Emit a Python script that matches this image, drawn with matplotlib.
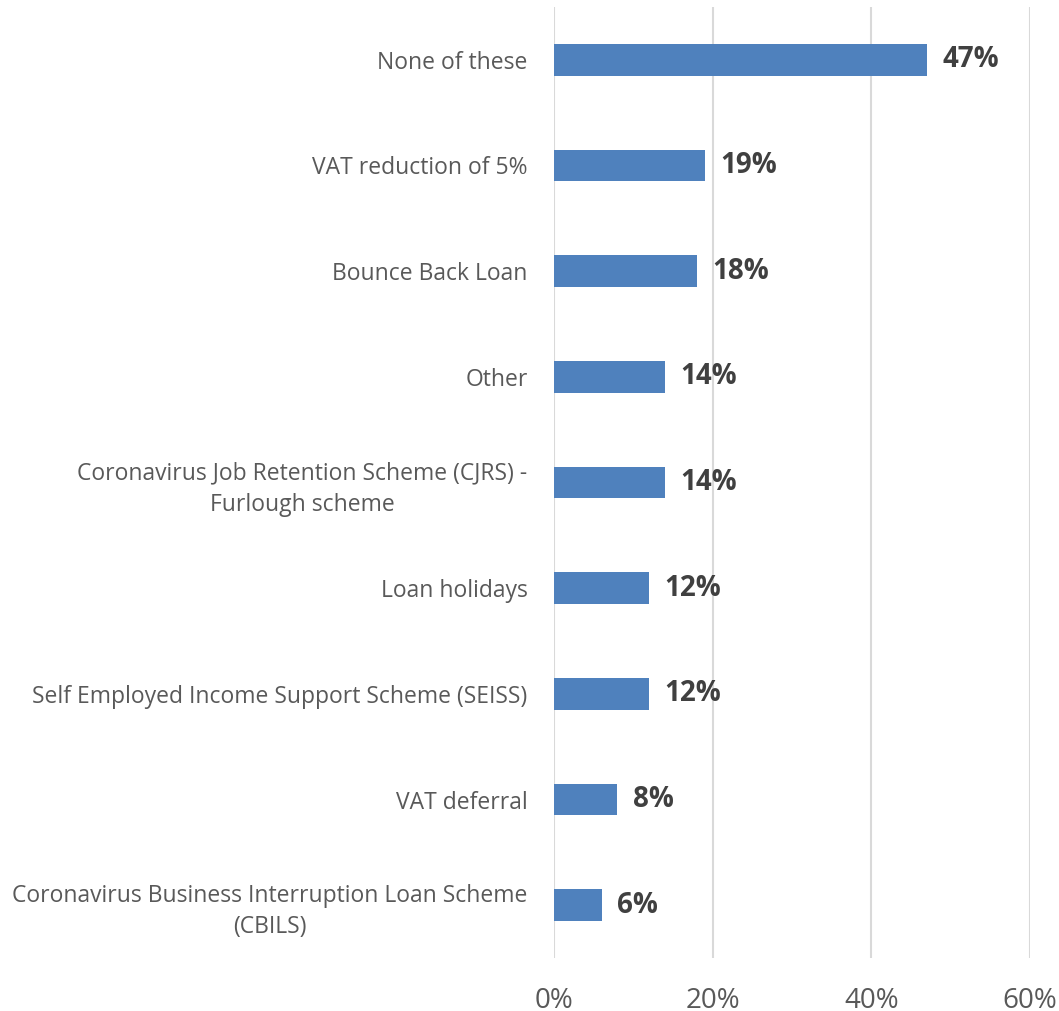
import matplotlib.pyplot as plt
from matplotlib.ticker import FuncFormatter

plt.rcParams['font.family'] = ['Open Sans', 'DejaVu Sans']

categories = [
    "None of these",
    "VAT reduction of 5%",
    "Bounce Back Loan",
    "Other",
    "Coronavirus Job Retention Scheme (CJRS) -\nFurlough scheme",
    "Loan holidays",
    "Self Employed Income Support Scheme (SEISS)",
    "VAT deferral",
    "Coronavirus Business Interruption Loan Scheme\n(CBILS)",
]
values = [47, 19, 18, 14, 14, 12, 12, 8, 6]
xticks = [0, 20, 40, 60]

fig = plt.figure(figsize=(10.59, 10.11), dpi=100)
ax = fig.add_axes([0.5231, 0.0524, 0.4495, 0.9407])

ypos = list(range(len(categories)))
ax.barh(ypos, values, height=0.3, color='#4F81BD', zorder=3)

for y, v in zip(ypos, values):
    ax.annotate(f"{v}%", (v, y), xytext=(11, 0), textcoords='offset points',
                ha='left', va='center', fontsize=20, fontweight='bold',
                color='#404040')

ax.set_yticks(ypos)
ax.set_yticklabels(categories, fontsize=16.5, color='#595959',
                   multialignment='center', linespacing=1.4)
ax.set_ylim(len(categories) - 0.5, -0.5)
ax.set_xlim(0, 60)
ax.set_xticks(xticks)
ax.xaxis.set_major_formatter(FuncFormatter(lambda x, p: f"{x:.0f}%"))
ax.tick_params(axis='x', labelsize=20, labelcolor='#595959', length=0, pad=21)
ax.tick_params(axis='y', length=0, pad=19)

ax.grid(axis='x', color='#D9D9D9', linewidth=1.5, zorder=0)
for s in ax.spines.values():
    s.set_visible(False)

fig.savefig("out.png", dpi=100)
